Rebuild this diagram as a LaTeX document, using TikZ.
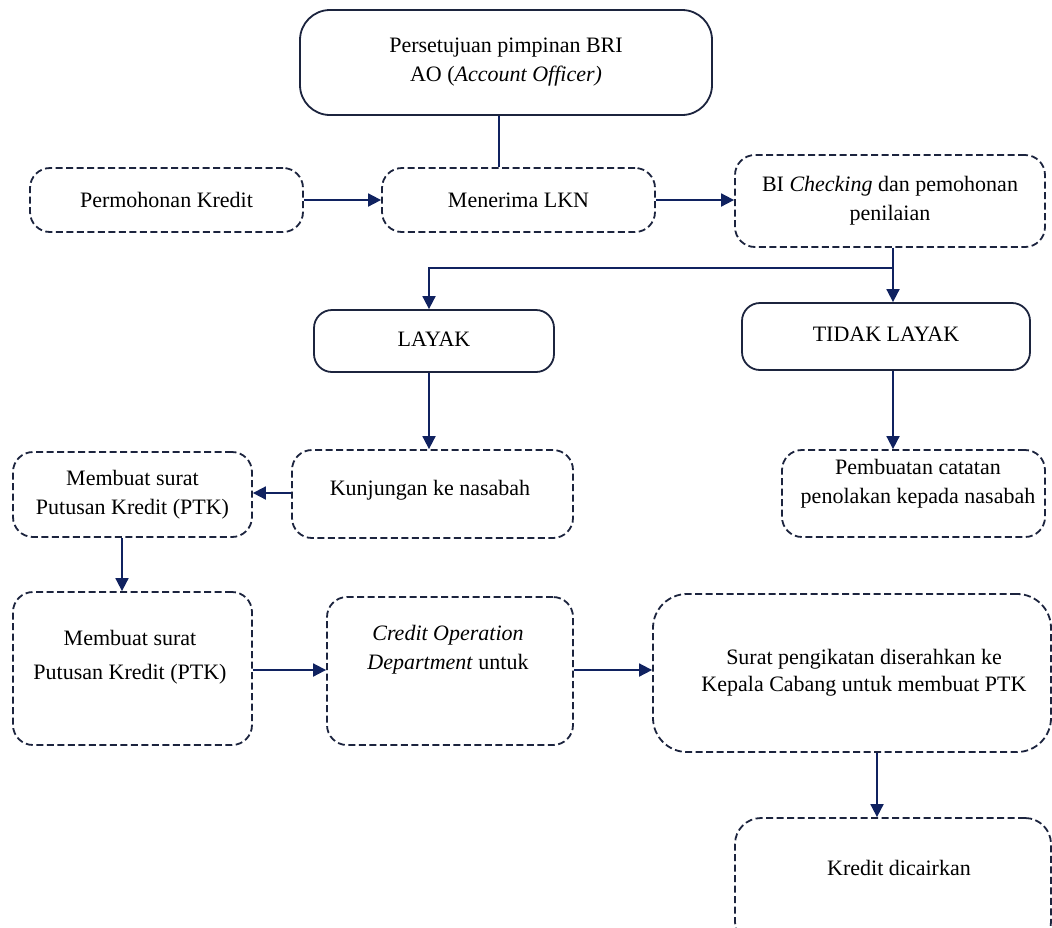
\documentclass[tikz,border=0pt]{standalone}
\usepackage{fontspec}
\setmainfont{Liberation Serif}
\usetikzlibrary{arrows.meta,calc}
\definecolor{boxcol}{RGB}{28,36,62}
\definecolor{arrcol}{RGB}{16,34,96}
\begin{document}
\begin{tikzpicture}[x=1pt,y=-1pt,
  every node/.style={font=\fontsize{22}{29}\selectfont, align=center, inner sep=0pt},
  sbox/.style={draw=boxcol, line width=1.8pt, rounded corners=22pt},
  dbox/.style={draw=boxcol, line width=1.8pt, rounded corners=20pt, dash pattern=on 7pt off 3.5pt},
  conn/.style={draw=arrcol, line width=1.8pt},
  arr/.style={conn, -{Triangle[length=13pt,width=13pt]}},
  txt/.style={draw=none}
]
\useasboundingbox (0,0) rectangle (1052,927);
\clip (0,0) rectangle (1052,927);
\fill[white] (0,0) rectangle (1052,927);

% boxes
\node[sbox, rounded corners=30pt, minimum width=412pt, minimum height=105pt] (top) at (506,62.5)
  {Persetujuan pimpinan BRI\\AO (\textit{Account Officer)}};
\node[dbox, minimum width=273pt, minimum height=64pt] (perm) at (166.5,200) {Permohonan Kredit};
\node[dbox, minimum width=273pt, minimum height=64pt] (lkn) at (518.5,200) {Menerima LKN};
\node[dbox, minimum width=310pt, minimum height=92pt] (bi) at (890,201)
  {BI \textit{Checking} dan pemohonan\\penilaian};
\node[sbox, rounded corners=18pt, minimum width=240pt, minimum height=62pt] (layak) at (434,341) {};
\node[txt] (layakt) at (434,339) {LAYAK};
\node[sbox, rounded corners=18pt, minimum width=288pt, minimum height=67pt] (tidak) at (886,336.5) {};
\node[txt] (tidakt) at (886,334) {TIDAK LAYAK};
\node[dbox, minimum width=281pt, minimum height=88pt] (kunj) at (432.5,494) {};
\node[txt] (kunjt) at (430,490) {Kunjungan ke nasabah};
\node[dbox, minimum width=239pt, minimum height=85pt] (mbs1) at (132.5,494.5)
  {Membuat surat\\Putusan Kredit (PTK)};
\node[dbox, minimum width=263pt, minimum height=87pt] (pemb) at (913.5,493.5) {};
\node[txt] (pembt) at (918,484) {Pembuatan catatan\\penolakan kepada nasabah};
\node[dbox, minimum width=239pt, minimum height=153pt] (mbs2) at (132.5,668.5) {};
\node[txt, font=\fontsize{22}{34}\selectfont] (mbs2t) at (130,657) {Membuat surat\\Putusan Kredit (PTK)};
\node[dbox, minimum width=246pt, minimum height=148pt] (cod) at (450,671) {};
\node[txt] (codt) at (448,650) {\textit{Credit Operation}\\\textit{Department} untuk};
\node[dbox, rounded corners=34pt, minimum width=398pt, minimum height=158pt] (surat) at (852,673) {};
\node[txt, font=\fontsize{22}{27}\selectfont] (surtt) at (864,673) {Surat pengikatan diserahkan ke\\Kepala Cabang untuk membuat PTK};
\node[dbox, rounded corners=26pt, minimum width=316pt, minimum height=130pt] (kred) at (893,883) {};
\node[txt] (kredt) at (899,868) {Kredit dicairkan};

% helper coordinates
\coordinate (xa) at (499,0);
\coordinate (split) at (893,268);
\coordinate (xl) at (429,0);
\coordinate (x122) at (122,0);
\coordinate (x877) at (877,0);
\coordinate (y200) at (0,200);
\coordinate (y493) at (0,493);
\coordinate (y670) at (0,670);

% connectors
\draw[conn] (top.south -| xa) -- (lkn.north -| xa);
\draw[arr] (perm.east) -- (lkn.west);
\draw[arr] (lkn.east |- y200) -- (bi.west |- y200);
\draw[arr] (bi.south -| split) -- (split) -- (split -| xl) -- (layak.north -| xl);
\draw[arr] (split) -- (tidak.north -| split);
\draw[arr] (layak.south -| xl) -- (kunj.north -| xl);
\draw[arr] (kunj.west |- y493) -- (mbs1.east |- y493);
\draw[arr] (tidak.south -| split) -- (pemb.north -| split);
\draw[arr] (mbs1.south -| x122) -- (mbs2.north -| x122);
\draw[arr] (mbs2.east |- y670) -- (cod.west |- y670);
\draw[arr] (cod.east |- y670) -- (surat.west |- y670);
\draw[arr] (surat.south -| x877) -- (kred.north -| x877);
\end{tikzpicture}
\end{document}
